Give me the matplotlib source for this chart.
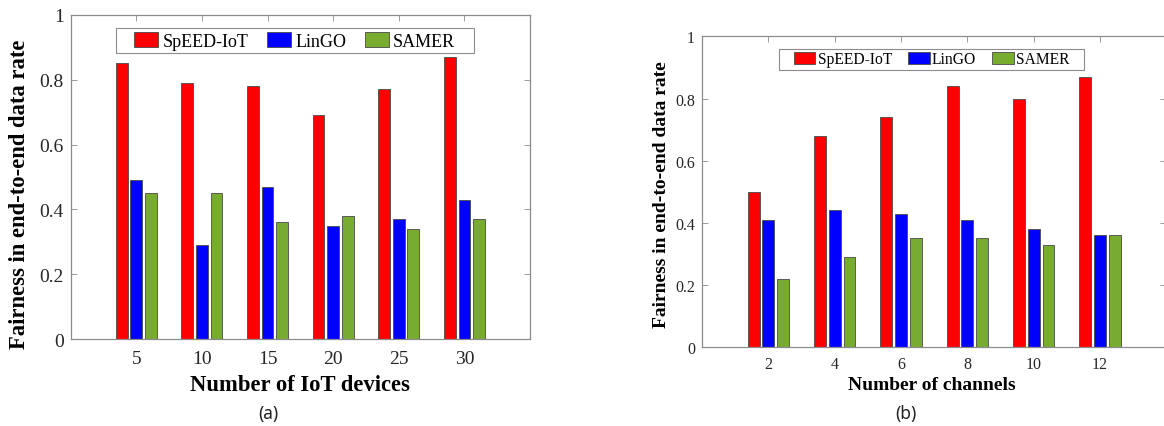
import numpy as np
import matplotlib.pyplot as plt
from matplotlib.patches import Rectangle

plt.rcParams['font.family'] = ['Liberation Serif', 'DejaVu Serif']

devices = [5, 10, 15, 20, 25, 30]
channels = [2, 4, 6, 8, 10, 12]
methods = ['SpEED-IoT', 'LinGO', 'SAMER']

speed_dev = [0.85, 0.79, 0.78, 0.69, 0.77, 0.87]
lingo_dev = [0.49, 0.29, 0.47, 0.35, 0.37, 0.43]
samer_dev = [0.45, 0.45, 0.36, 0.38, 0.34, 0.37]

speed_ch = [0.50, 0.68, 0.74, 0.84, 0.80, 0.87]
lingo_ch = [0.41, 0.44, 0.43, 0.41, 0.38, 0.36]
samer_ch = [0.22, 0.29, 0.35, 0.35, 0.33, 0.36]

colors = ['#FF0000', '#0000FF', '#77AC30']
axis_gray = '#8c8c8c'


def bar_panel(ax, cats, series, xlabel, fs_tick, fs_label, tick_pad,
              xlab_xy, ylab_xy, leg_fs, leg_opts, leg_box):
    x = np.arange(1, len(cats) + 1)
    pitch = 0.222
    width = 0.178
    for i, (vals, c, name) in enumerate(zip(series, colors, methods)):
        ax.bar(x + (i - 1) * pitch, vals, width, color=c, edgecolor='#4a4a4a',
               linewidth=0.6, label=name, zorder=2)
    ax.set_xlim(0, len(cats) + 1)
    ax.set_ylim(0, 1)
    ax.set_xticks(x)
    ax.set_xticklabels([str(c) for c in cats])
    ax.set_yticks([0, 0.2, 0.4, 0.6, 0.8, 1])
    ax.set_yticklabels(['0', '0.2', '0.4', '0.6', '0.8', '1'])
    ax.tick_params(direction='in', top=True, right=True, length=4, width=0.6,
                   color=axis_gray, labelsize=fs_tick, labelcolor='#262626')
    ax.tick_params(axis='x', pad=tick_pad)
    ax.tick_params(axis='y', pad=5)
    for s in ax.spines.values():
        s.set_color(axis_gray)
        s.set_linewidth(0.9)
    ax.set_xlabel(xlabel, fontsize=fs_label, fontweight='bold', va='center')
    ax.set_ylabel('Fairness in end-to-end data rate', fontsize=fs_label,
                  fontweight='bold', va='center')
    ax.xaxis.set_label_coords(*xlab_xy)
    ax.yaxis.set_label_coords(*ylab_xy)

    # legend frame drawn separately so padding matches the original
    bx, by, bw, bh = leg_box
    ax.add_patch(Rectangle((bx, by), bw, bh, transform=ax.transAxes,
                           facecolor='white', edgecolor=axis_gray, lw=0.8,
                           zorder=4, clip_on=False))
    ax.legend(ncol=3, loc='center', bbox_to_anchor=(bx + bw / 2, by + bh / 2),
              fontsize=leg_fs, frameon=False, borderpad=0, borderaxespad=0,
              **leg_opts)


fig = plt.figure(figsize=(11.64, 4.27), dpi=100)
ax1 = fig.add_axes([0.0607, 0.2030, 0.3946, 0.7602])
ax2 = fig.add_axes([0.6031, 0.1843, 0.3990, 0.7283])

bar_panel(ax1, devices, [speed_dev, lingo_dev, samer_dev], 'Number of IoT devices',
          14, 16.3, 7.5, (0.500, -0.138), (-0.111, 0.451), 13,
          dict(handlelength=1.33, handleheight=0.89, handletextpad=0.22,
               columnspacing=1.05),
          (0.098, 0.881, 0.780, 0.078))
bar_panel(ax2, channels, [speed_ch, lingo_ch, samer_ch], 'Number of channels',
          11.5, 14, 6, (0.495, -0.121), (-0.088, 0.495), 11.2,
          dict(handlelength=1.38, handleheight=0.9, handletextpad=0.16,
               columnspacing=1.03),
          (0.166, 0.892, 0.657, 0.0675))

fig.text(268 / 1164, 1 - 414 / 427, '(a)', fontsize=12.5, family='Noto Sans',
         ha='center', va='center', color='#222222')
fig.text(906 / 1164, 1 - 414 / 427, '(b)', fontsize=12.5, family='Noto Sans',
         ha='center', va='center', color='#222222')

fig.savefig('out.png', dpi=100)
